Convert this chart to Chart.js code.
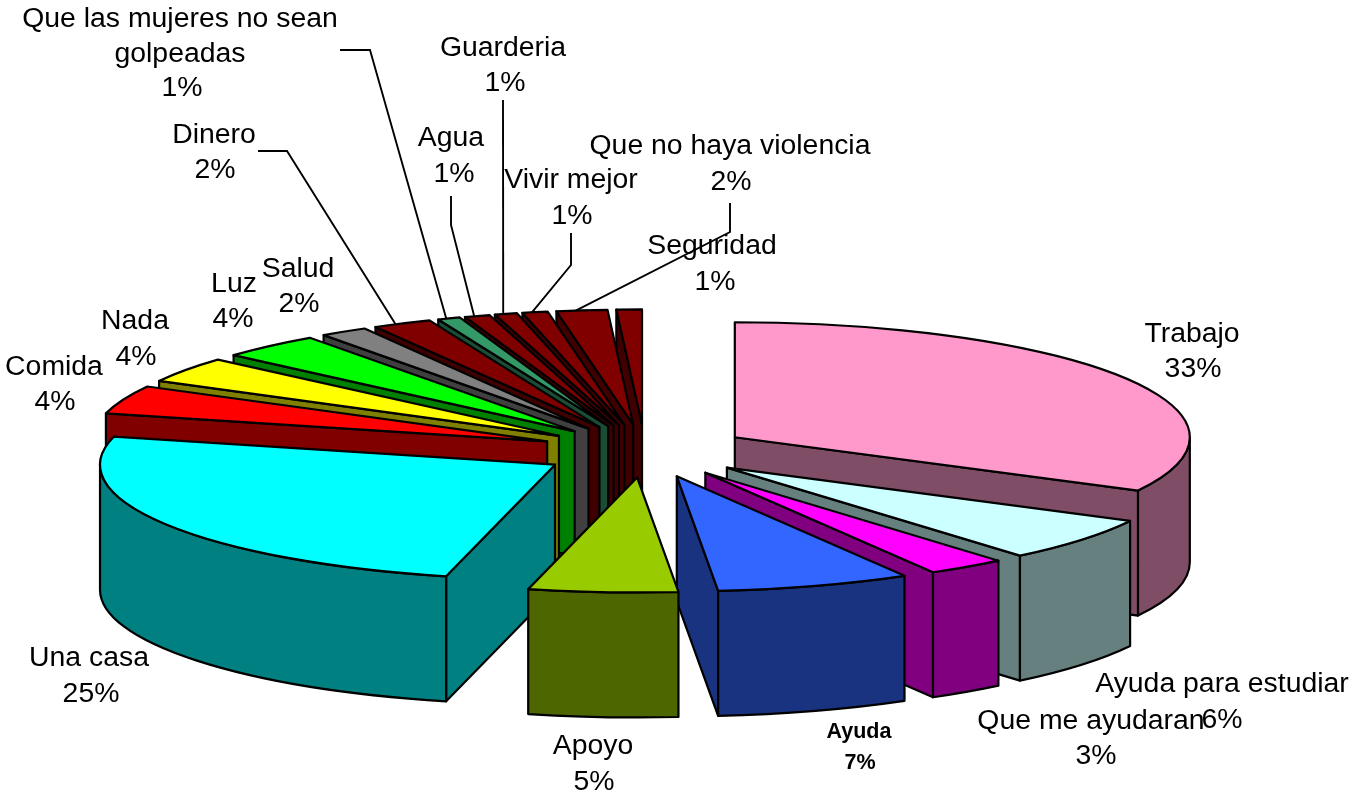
<!DOCTYPE html>
<html>
<head>
<meta charset="utf-8">
<title>Pie</title>
<script src="https://cdn.jsdelivr.net/npm/chart.js@4"></script>
<style>
  html, body { margin: 0; padding: 0; background: #fff; }
  canvas { display: block; }
</style>
</head>
<body>
<canvas id="myChart" width="1352" height="795"></canvas>
<script>
const categories = ['Trabajo', 'Ayuda para estudiar', 'Que me ayudaran', 'Ayuda', 'Apoyo', 'Una casa',
  'Comida', 'Nada', 'Luz', 'Salud', 'Dinero', 'Que las mujeres no sean golpeadas', 'Agua', 'Guarderia',
  'Vivir mejor', 'Que no haya violencia', 'Seguridad'];
const values = [32.7, 6.2, 2.8, 6.9, 5.3, 25.1, 4, 3.6, 3.6, 1.7, 2.1, 0.8, 0.9, 0.8, 0.9, 1.8, 0.9];
const percents = ['33%', '6%', '3%', '7%', '5%', '25%', '4%', '4%', '4%', '2%', '2%', '1%', '1%', '1%', '1%', '2%', '1%'];
const topColors = ['#FF99CC', '#CCFFFF', '#FF00FF', '#3366FF', '#99CC00', '#00FFFF', '#FF0000', '#FFFF00',
  '#00FF00', '#808080', '#800000', '#339966', '#800000', '#800000', '#800000', '#800000', '#800000'];
const sideColors = ['#804D66', '#668080', '#800080', '#1A3380', '#4D6600', '#008080', '#800000', '#808000',
  '#008000', '#404040', '#400000', '#1A4D33', '#400000', '#400000', '#400000', '#400000', '#400000'];

// label lines: [text, x, y] per line, 0 stands for the percent
const labelLines = [
  [['Trabajo', 1192, 334], [0, 1193, 369]],
  [['Ayuda para estudiar', 1222, 684], [0, 1222, 720]],
  [['Que me ayudaran', 1091, 721], [0, 1096, 756]],
  [['Ayuda', 859, 732], [0, 860, 763]],
  [['Apoyo', 593, 746], [0, 594, 782]],
  [['Una casa', 89, 658], [0, 91, 694]],
  [['Comida', 54, 367], [0, 55, 402]],
  [['Nada', 135, 321], [0, 136, 357]],
  [['Luz', 234, 284], [0, 233, 319]],
  [['Salud', 298, 269], [0, 299, 304]],
  [['Dinero', 214, 135], [0, 215, 170]],
  [['Que las mujeres no sean', 180, 19], ['golpeadas', 180, 54], [0, 182, 88]],
  [['Agua', 451, 138], [0, 454, 174]],
  [['Guarderia', 503, 48], [0, 505, 83]],
  [['Vivir mejor', 571, 180], [0, 572, 216]],
  [['Que no haya violencia', 730, 146], [0, 731, 182]],
  [['Seguridad', 712, 246], [0, 715, 282]]
];
// leader lines start at the label, the last point is taken from the slice
const leaders = {
  10: [[258, 151], [287, 151]],
  11: [[340, 50], [370, 50]],
  12: [[451, 196], [451, 225]],
  13: [[503, 100]],
  14: [[571, 233], [571, 265]],
  15: [[730, 203], [730, 232]]
};

const SQUASH = 115 / 455;
const DEPTH = 125;
const EXPLODE = 105;

const sliceGeom = (arc) => {
  const p = arc.getProps(['x', 'y', 'startAngle', 'endAngle', 'outerRadius'], true);
  const mid = (p.startAngle + p.endAngle) / 2;
  const off = arc.options.offset;
  return {
    a: p.startAngle,
    b: p.endAngle,
    mid: mid,
    r: p.outerRadius,
    ry: p.outerRadius * SQUASH,
    x: p.x + off * Math.cos(mid),
    y: p.y + off * SQUASH * Math.sin(mid)
  };
};

const drawWall = (ctx, g, t) => {
  const ex = g.x + g.r * Math.cos(t);
  const ey = g.y + g.ry * Math.sin(t);
  ctx.beginPath();
  ctx.moveTo(g.x, g.y);
  ctx.lineTo(ex, ey);
  ctx.lineTo(ex, ey + DEPTH);
  ctx.lineTo(g.x, g.y + DEPTH);
  ctx.closePath();
  ctx.fill();
  ctx.stroke();
};

const pie3d = {
  id: 'pie3d',
  // the arcs come from the pie controller, only the painting is replaced
  beforeDatasetDraw(chart) {
    const ctx = chart.ctx;
    const arcs = chart.getDatasetMeta(0).data;
    const order = arcs.map((arc, i) => i);
    order.sort((i, j) => sliceGeom(arcs[i]).y - sliceGeom(arcs[j]).y);

    ctx.save();
    ctx.lineWidth = 2.2;
    ctx.lineJoin = 'round';
    ctx.strokeStyle = '#000';
    order.forEach(i => {
      const g = sliceGeom(arcs[i]);
      ctx.fillStyle = sideColors[i];
      if (Math.cos(g.a) < -0.001) drawWall(ctx, g, g.a);
      if (Math.cos(g.b) > 0.001) drawWall(ctx, g, g.b);

      const s = Math.max(g.a, 0);
      const e = Math.min(g.b, Math.PI);
      if (e > s) {
        ctx.beginPath();
        ctx.ellipse(g.x, g.y, g.r, g.ry, 0, s, e);
        ctx.ellipse(g.x, g.y + DEPTH, g.r, g.ry, 0, e, s, true);
        ctx.closePath();
        ctx.fill();
        ctx.stroke();
      }

      ctx.fillStyle = topColors[i];
      ctx.beginPath();
      ctx.moveTo(g.x, g.y);
      ctx.ellipse(g.x, g.y, g.r, g.ry, 0, g.a, g.b);
      ctx.closePath();
      ctx.fill();
      ctx.stroke();
    });
    ctx.restore();
    return false;
  },
  afterDraw(chart) {
    const ctx = chart.ctx;
    const arcs = chart.getDatasetMeta(0).data;
    ctx.save();
    ctx.strokeStyle = '#000';
    ctx.lineWidth = 1.9;
    Object.keys(leaders).forEach(k => {
      const g = sliceGeom(arcs[k]);
      const pts = leaders[k];
      // the lines land a bit before the middle of the slice's rim
      const t = g.a + (g.b - g.a) * 0.38;
      ctx.beginPath();
      ctx.moveTo(pts[0][0], pts[0][1]);
      pts.slice(1).forEach(pt => ctx.lineTo(pt[0], pt[1]));
      ctx.lineTo(g.x + g.r * Math.cos(t), g.y + g.ry * Math.sin(t));
      ctx.stroke();
    });

    ctx.fillStyle = '#000';
    ctx.textAlign = 'center';
    ctx.textBaseline = 'middle';
    labelLines.forEach((lines, i) => {
      // "Ayuda" is the only bold label in the original
      ctx.font = categories[i] === 'Ayuda' ? 'bold 21.5px "Liberation Sans"' : '28.4px "Liberation Sans"';
      lines.forEach(line => {
        const text = line[0] === 0 ? percents[i] : line[0];
        ctx.fillText(text, line[1], line[2]);
      });
    });
    ctx.restore();
  }
};

document.addEventListener('DOMContentLoaded', () => {
  new Chart(document.getElementById('myChart').getContext('2d'), {
    type: 'pie',
    data: {
      labels: categories,
      datasets: [{
        data: values,
        backgroundColor: topColors,
        borderWidth: 0,
        offset: EXPLODE
      }]
    },
    options: {
      responsive: false,
      animation: false,
      radius: 455,
      layout: { padding: { left: 0, right: 62, top: 107, bottom: 0 } },
      plugins: {
        legend: { display: false },
        tooltip: { enabled: false }
      }
    },
    plugins: [pie3d]
  });
});
</script>
</body>
</html>
